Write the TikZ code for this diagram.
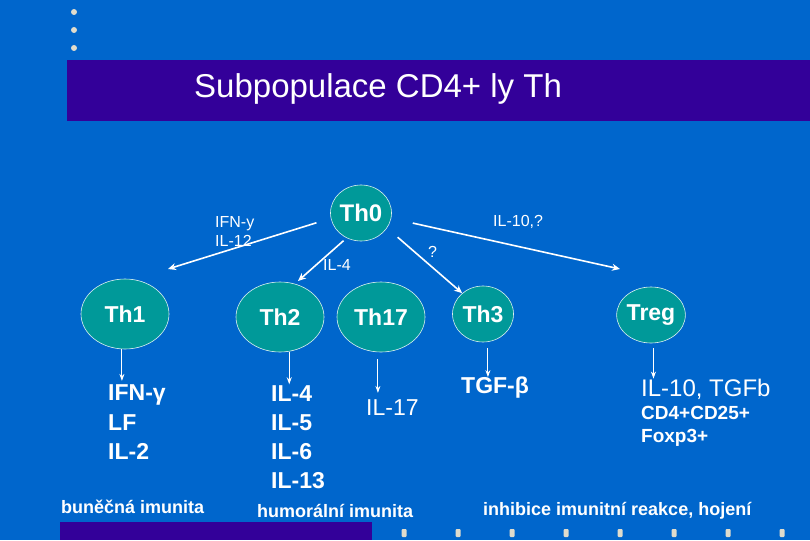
\documentclass[tikz,border=0pt]{standalone}
\usepackage{fontspec}
\setmainfont{Liberation Sans}
\usetikzlibrary{shapes.geometric, arrows.meta, positioning}

\definecolor{slideblue}{HTML}{0066CC}
\definecolor{titlepurple}{HTML}{330099}
\definecolor{cellteal}{HTML}{009999}
\definecolor{dotgrey}{HTML}{E0DCCC}

\begin{document}
\begin{tikzpicture}[x=1pt, y=-1pt,
  cell/.style={ellipse, draw=white!85!cellteal, fill=cellteal, line width=0.6pt,
               text=white, font=\fontsize{23}{23}\selectfont\bfseries,
               minimum width=88pt, minimum height=70pt, inner sep=0pt},
  smallcell/.style={cell, minimum width=61pt, minimum height=56pt},
  cytok/.style={text=white, align=left, inner sep=0pt, anchor=west,
                font=\fontsize{23}{29.5}\selectfont\bfseries},
  signal/.style={text=white, align=left, inner sep=0pt, anchor=west,
                 font=\fontsize{16}{19}\selectfont},
  effect/.style={text=white, inner sep=0pt, anchor=west,
                 font=\fontsize{18}{18}\selectfont\bfseries},
  arrow/.style={-{Stealth[length=8pt, width=7pt]}, white, line width=1.6pt},
  down/.style={-{Stealth[length=7pt, width=5pt]}, white, line width=0.9pt},
  dot/.style={fill=dotgrey, draw=none}
]

\useasboundingbox (0,0) rectangle (810,540);
\fill[slideblue] (0,0) rectangle (810,540);
\fill[titlepurple] (67,60) rectangle (810,121);
\fill[titlepurple] (60,522) rectangle (372,540);
\foreach \y in {12,30,48} \fill[dot] (74,\y) circle (3pt);
\foreach \x in {404,458,...,782}
  \fill[dot, rounded corners=1pt] (\x-2.5,529) rectangle (\x+2.5,537);

\node[text=white, font=\fontsize{33}{33}\selectfont, anchor=west, inner sep=0pt]
  (title) at (194,89) {Subpopulace CD4+ ly Th};

% cells
\node[smallcell, font=\fontsize{24}{24}\selectfont\bfseries] (th0) at (361,213) {Th0};
\node[cell] (th1) at (125,314) {Th1};
\node[cell] (th2) at (280,317) {Th2};
\node[cell] (th17) at (381,317) {Th17};
\node[smallcell] (th3) at (483,314) {Th3};
\node[smallcell] (treg) at (651,315) {Treg};

% signals
\node[signal] (ifnl) at (215,231.5) {IFN-y\\IL-12};
\node[signal] (il4l) at (323,265) {IL-4};
\node[signal] (ql) at (428,252) {?};
\node[signal] (il10l) at (493,222) {IL-10,?};

\coordinate (th1in) at (168,269);
\coordinate (th2in) at (298,281);
\coordinate (tregin) at (620,269);

\draw[arrow, shorten <=15pt] (th0.190) -- (th1in);
\draw[arrow, shorten <=4pt] (th0.240) -- (th2in);
\draw[arrow, shorten <=14pt] (th0.330) -- (th3.135);
\draw[arrow, shorten <=22pt] (th0.350) -- (tregin);

% products
\node[cytok] (th1list) at (108,422.5) {IFN-γ\\LF\\IL-2};
\node[cytok, font=\fontsize{23}{29}\selectfont\bfseries] (th2list) at (271,437) {IL-4\\IL-5\\IL-6\\IL-13};
\node[cytok, font=\fontsize{23}{23}\selectfont] (th17list) at (366,408) {IL-17};
\node[cytok] (th3list) at (461,388) {TGF-β};
\node[cytok, font=\fontsize{24}{24}\selectfont] (treglist) at (641,389) {IL-10, TGFb};
\node[cytok, font=\fontsize{19}{23}\selectfont\bfseries] (tregmark) at (641,426.5) {CD4+CD25+\\Foxp3+};

\draw[down, shorten >=4pt] (th1.265) -- (th1.265 |- th1list.north);
\draw[down, shorten >=1pt] (th2.285) -- (th2.285 |- th2list.north);
\draw[down, shorten <=7pt, shorten >=7pt] (th17.265) -- (th17.265 |- th17list.north);
\draw[down, shorten <=6pt] (th3.280) -- (th3.280 |- th3list.north);
\draw[down, shorten <=5pt] (treg.275) -- (treg.275 |- treglist.north);

% effects
\node[effect] (cellimm) at (61,507) {buněčná imunita};
\node[effect] (humimm) at (257,511) {humorální imunita};
\node[effect] (inhib) at (483,511) {inhibice imunitní reakce, hojení};

\end{tikzpicture}
\end{document}
